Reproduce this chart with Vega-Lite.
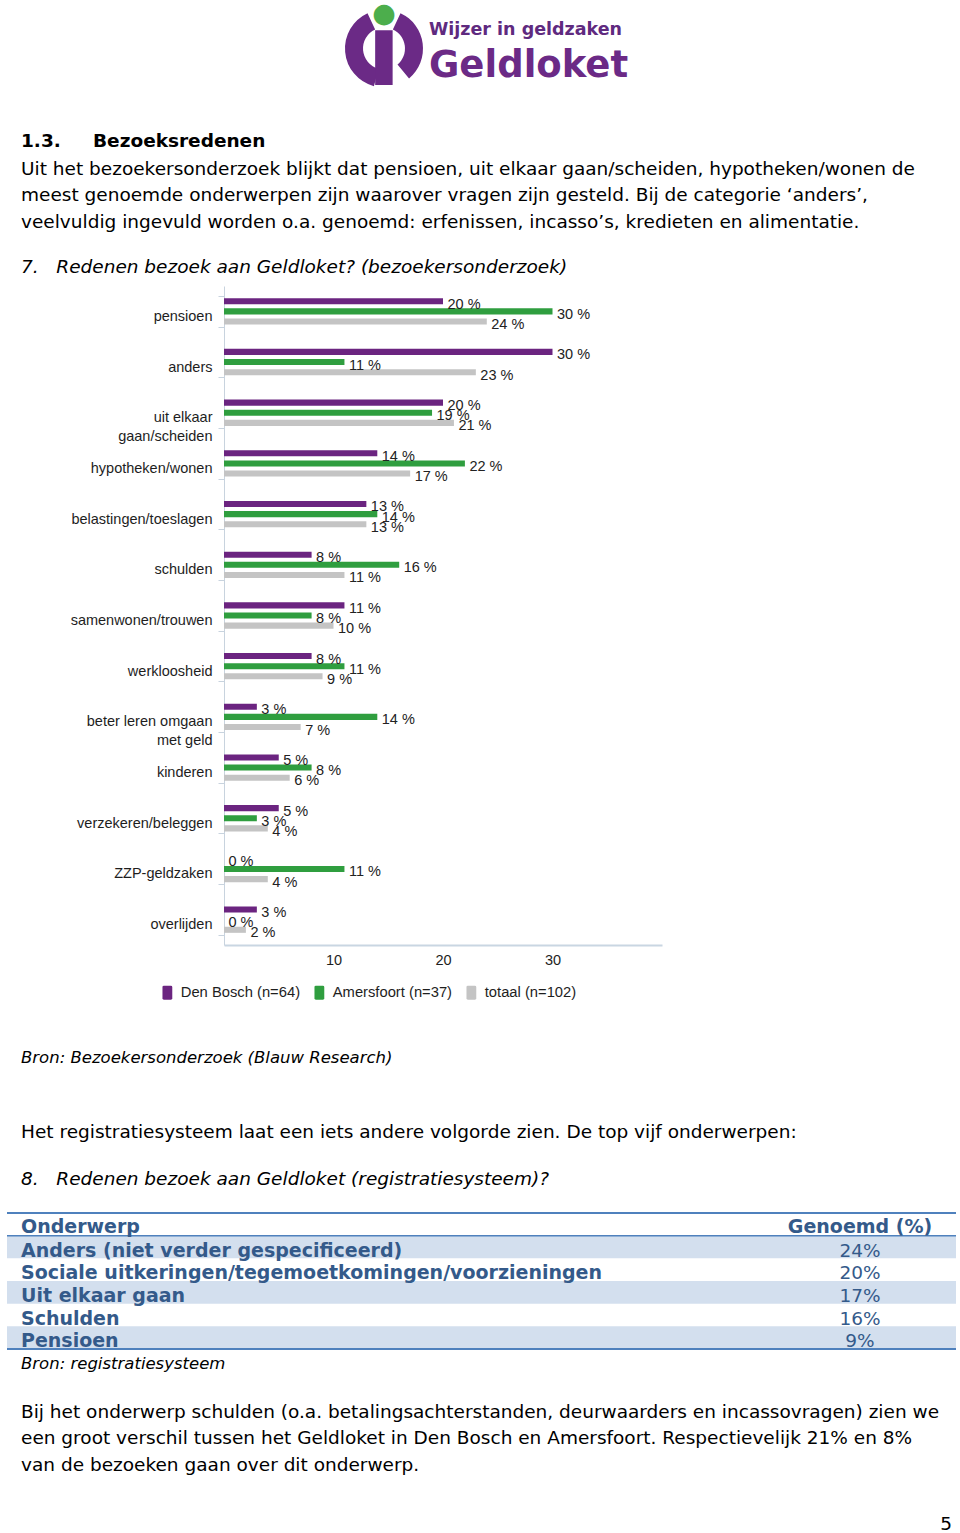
{
  "$schema": "https://vega.github.io/schema/vega-lite/v6.json",
  "padding": 0,
  "spacing": 0,
  "background": "#ffffff",
  "config": {"view": {"stroke": null}},
  "resolve": {"legend": {"color": "independent"}},
  "datasets": {
    "logo": [
      {"deel": "rechts", "van": 25, "tot": 140},
      {"deel": "links", "van": 195, "tot": 335}
    ],
    "bezoek": [
      {"onderwerp": "pensioen", "locatie": "Den Bosch (n=64)", "percentage": 20},
      {"onderwerp": "pensioen", "locatie": "Amersfoort (n=37)", "percentage": 30},
      {"onderwerp": "pensioen", "locatie": "totaal (n=102)", "percentage": 24},
      {"onderwerp": "anders", "locatie": "Den Bosch (n=64)", "percentage": 30},
      {"onderwerp": "anders", "locatie": "Amersfoort (n=37)", "percentage": 11},
      {"onderwerp": "anders", "locatie": "totaal (n=102)", "percentage": 23},
      {"onderwerp": "uit elkaar gaan/scheiden", "locatie": "Den Bosch (n=64)", "percentage": 20},
      {"onderwerp": "uit elkaar gaan/scheiden", "locatie": "Amersfoort (n=37)", "percentage": 19},
      {"onderwerp": "uit elkaar gaan/scheiden", "locatie": "totaal (n=102)", "percentage": 21},
      {"onderwerp": "hypotheken/wonen", "locatie": "Den Bosch (n=64)", "percentage": 14},
      {"onderwerp": "hypotheken/wonen", "locatie": "Amersfoort (n=37)", "percentage": 22},
      {"onderwerp": "hypotheken/wonen", "locatie": "totaal (n=102)", "percentage": 17},
      {"onderwerp": "belastingen/toeslagen", "locatie": "Den Bosch (n=64)", "percentage": 13},
      {"onderwerp": "belastingen/toeslagen", "locatie": "Amersfoort (n=37)", "percentage": 14},
      {"onderwerp": "belastingen/toeslagen", "locatie": "totaal (n=102)", "percentage": 13},
      {"onderwerp": "schulden", "locatie": "Den Bosch (n=64)", "percentage": 8},
      {"onderwerp": "schulden", "locatie": "Amersfoort (n=37)", "percentage": 16},
      {"onderwerp": "schulden", "locatie": "totaal (n=102)", "percentage": 11},
      {"onderwerp": "samenwonen/trouwen", "locatie": "Den Bosch (n=64)", "percentage": 11},
      {"onderwerp": "samenwonen/trouwen", "locatie": "Amersfoort (n=37)", "percentage": 8},
      {"onderwerp": "samenwonen/trouwen", "locatie": "totaal (n=102)", "percentage": 10},
      {"onderwerp": "werkloosheid", "locatie": "Den Bosch (n=64)", "percentage": 8},
      {"onderwerp": "werkloosheid", "locatie": "Amersfoort (n=37)", "percentage": 11},
      {"onderwerp": "werkloosheid", "locatie": "totaal (n=102)", "percentage": 9},
      {"onderwerp": "beter leren omgaan met geld", "locatie": "Den Bosch (n=64)", "percentage": 3},
      {"onderwerp": "beter leren omgaan met geld", "locatie": "Amersfoort (n=37)", "percentage": 14},
      {"onderwerp": "beter leren omgaan met geld", "locatie": "totaal (n=102)", "percentage": 7},
      {"onderwerp": "kinderen", "locatie": "Den Bosch (n=64)", "percentage": 5},
      {"onderwerp": "kinderen", "locatie": "Amersfoort (n=37)", "percentage": 8},
      {"onderwerp": "kinderen", "locatie": "totaal (n=102)", "percentage": 6},
      {"onderwerp": "verzekeren/beleggen", "locatie": "Den Bosch (n=64)", "percentage": 5},
      {"onderwerp": "verzekeren/beleggen", "locatie": "Amersfoort (n=37)", "percentage": 3},
      {"onderwerp": "verzekeren/beleggen", "locatie": "totaal (n=102)", "percentage": 4},
      {"onderwerp": "ZZP-geldzaken", "locatie": "Den Bosch (n=64)", "percentage": 0},
      {"onderwerp": "ZZP-geldzaken", "locatie": "Amersfoort (n=37)", "percentage": 11},
      {"onderwerp": "ZZP-geldzaken", "locatie": "totaal (n=102)", "percentage": 4},
      {"onderwerp": "overlijden", "locatie": "Den Bosch (n=64)", "percentage": 3},
      {"onderwerp": "overlijden", "locatie": "Amersfoort (n=37)", "percentage": 0},
      {"onderwerp": "overlijden", "locatie": "totaal (n=102)", "percentage": 2}
    ],
    "tabel": [
      {"rang": 1, "onderwerp": "Anders (niet verder gespecificeerd)", "genoemd": 24},
      {"rang": 2, "onderwerp": "Sociale uitkeringen/tegemoetkomingen/voorzieningen", "genoemd": 20},
      {"rang": 3, "onderwerp": "Uit elkaar gaan", "genoemd": 17},
      {"rang": 4, "onderwerp": "Schulden", "genoemd": 16},
      {"rang": 5, "onderwerp": "Pensioen", "genoemd": 9}
    ],
    "kop": [
      {"rang": 0, "kolom": "Onderwerp"},
      {"rang": 0, "kolom": "Genoemd (%)"}
    ]
  },
  "vconcat": [
    {
      "spacing": 0,
      "hconcat": [
        {"width": 345, "height": 10, "data": {"values": []}, "mark": "point"},
        {
          "width": 78, "height": 97,
          "data": {"name": "logo"},
          "mark": {"type": "arc", "radius": 39, "radius2": 21, "fill": "#6b2a86"},
          "encoding": {
            "theta": {"field": "van", "type": "quantitative", "stack": null, "scale": {"domain": [0, 360]}},
            "theta2": {"field": "tot"}
          },
          "title": {
            "text": "●", "subtitle": "ı",
            "anchor": "middle", "frame": "group", "orient": "bottom", "offset": -96, "baseline": "top",
            "font": "DejaVu Sans", "fontSize": 27, "fontWeight": "normal", "color": "#4cae4c",
            "subtitleFont": "DejaVu Sans", "subtitleFontSize": 100, "subtitleFontWeight": "bold", "subtitleColor": "#6b2a86",
            "subtitlePadding": -22
          }
        },
        {
          "width": 537, "height": 114,
          "data": {"values": []}, "mark": "point",
          "title": {
            "text": "Wijzer in geldzaken", "subtitle": "Geldloket",
            "anchor": "start", "frame": "group", "orient": "bottom", "offset": -93, "baseline": "top", "dx": 6,
            "font": "DejaVu Sans", "fontSize": 17.5, "fontWeight": "bold", "color": "#5f2a7f",
            "subtitleFont": "DejaVu Sans", "subtitleFontSize": 37, "subtitleFontWeight": "bold", "subtitleColor": "#6b2a86",
            "subtitlePadding": 9.5
          }
        }
      ]
    },
    {
      "width": 960, "height": 125,
      "data": {"values": []}, "mark": "point",
      "title": {
        "text": "1.3.\u00a0\u00a0\u00a0\u00a0\u00a0Bezoeksredenen",
        "subtitle": [
          "Uit het bezoekersonderzoek blijkt dat pensioen, uit elkaar gaan/scheiden, hypotheken/wonen de",
          "meest genoemde onderwerpen zijn waarover vragen zijn gesteld. Bij de categorie ‘anders’,",
          "veelvuldig ingevuld worden o.a. genoemd: erfenissen, incasso’s, kredieten en alimentatie."
        ],
        "anchor": "start", "frame": "group", "orient": "bottom", "offset": -107.3, "baseline": "top", "dx": 21,
        "font": "DejaVu Sans", "fontSize": 18.5, "fontWeight": "bold", "color": "#000000",
        "subtitleFont": "DejaVu Sans", "subtitleFontSize": 18.5, "subtitleFontWeight": "normal", "subtitleColor": "#000000",
        "subtitleLineHeight": 26.6, "subtitlePadding": 9.3
      }
    },
    {
      "width": 960, "height": 39,
      "data": {"values": []}, "mark": "point",
      "title": {
        "text": "7.\u00a0\u00a0\u00a0Redenen bezoek aan Geldloket? (bezoekersonderzoek)",
        "anchor": "start", "frame": "group", "orient": "bottom", "offset": -20.3, "baseline": "top", "dx": 21,
        "font": "DejaVu Sans", "fontSize": 18.5, "fontWeight": "normal", "fontStyle": "italic", "color": "#000000"
      }
    },
    {
      "spacing": 0,
      "resolve": {"legend": {"color": "independent"}},
      "hconcat": [
        {"width": 1, "height": 1, "data": {"values": []}, "mark": "point"},
        {
          "width": 438, "height": 659,
          "data": {"name": "bezoek"},
          "encoding": {
            "y": {
              "field": "onderwerp", "type": "nominal",
              "sort": ["pensioen", "anders", "uit elkaar gaan/scheiden", "hypotheken/wonen", "belastingen/toeslagen", "schulden", "samenwonen/trouwen", "werkloosheid", "beter leren omgaan met geld", "kinderen", "verzekeren/beleggen", "ZZP-geldzaken", "overlijden"],
              "scale": {"paddingInner": 0.4, "paddingOuter": 0.2},
              "axis": {
                "title": null, "domainColor": "#c8d3de", "tickColor": "#c8d3de", "tickSize": 6, "tickBand": "extent",
                "labelFont": "Liberation Sans", "labelFontSize": 14.5, "labelColor": "#1e1e1e",
                "labelPadding": 6, "labelOffset": 5, "labelLimit": 220, "labelLineHeight": 18.3,
                "minExtent": 223, "maxExtent": 223,
                "labelExpr": "datum.label == 'uit elkaar gaan/scheiden' ? ['uit elkaar', 'gaan/scheiden'] : datum.label == 'beter leren omgaan met geld' ? ['beter leren omgaan', 'met geld'] : datum.label"
              }
            },
            "yOffset": {
              "field": "locatie", "type": "nominal",
              "sort": ["Den Bosch (n=64)", "Amersfoort (n=37)", "totaal (n=102)"],
              "scale": {"paddingInner": 0.4, "paddingOuter": 0.2}
            },
            "x": {
              "field": "percentage", "type": "quantitative",
              "scale": {"domain": [0, 40]},
              "axis": {
                "title": null, "values": [10, 20, 30], "grid": false, "ticks": false, "tickSize": 0,
                "domainColor": "#c9d6e2", "domainWidth": 2,
                "labelFont": "Liberation Sans", "labelFontSize": 14.5, "labelColor": "#1e1e1e", "labelPadding": 8,
                "minExtent": 74, "maxExtent": 74
              }
            }
          },
          "layer": [
            {
              "mark": {"type": "bar"},
              "encoding": {
                "color": {
                  "field": "locatie", "type": "nominal",
                  "scale": {"domain": ["Den Bosch (n=64)", "Amersfoort (n=37)", "totaal (n=102)"], "range": ["#6b2480", "#2f9e3f", "#c4c4c4"]},
                  "legend": {
                    "orient": "none", "legendX": -64, "legendY": 699, "direction": "horizontal", "title": null,
                    "symbolType": "M-0.5,-1H0.5Q0.7,-1 0.7,-0.8V0.8Q0.7,1 0.5,1H-0.5Q-0.7,1 -0.7,0.8V-0.8Q-0.7,-1 -0.5,-1Z",
                    "symbolSize": 196, "symbolStrokeWidth": 0, "symbolOpacity": 1,
                    "labelFont": "Liberation Sans", "labelFontSize": 14.75, "labelColor": "#1e1e1e", "labelOffset": 6, "labelLimit": 300,
                    "columnPadding": 11, "padding": 0
                  }
                }
              }
            },
            {
              "mark": {"type": "text", "align": "left", "baseline": "middle", "dx": 4.5, "dy": 3.5, "font": "Liberation Sans", "fontSize": 14.5, "color": "#222222"},
              "encoding": {
                "text": {"value": {"expr": "datum.percentage + ' %'"}}
              }
            }
          ]
        }
      ]
    },
    {
      "width": 960, "height": 80,
      "data": {"values": []}, "mark": "point",
      "title": {
        "text": "Bron: Bezoekersonderzoek (Blauw Research)",
        "anchor": "start", "frame": "group", "orient": "bottom", "offset": -49, "baseline": "top", "dx": 21,
        "font": "DejaVu Sans", "fontSize": 16.5, "fontWeight": "normal", "fontStyle": "italic", "color": "#000000"
      }
    },
    {
      "width": 960, "height": 113,
      "data": {"values": []}, "mark": "point",
      "title": {
        "text": "Het registratiesysteem laat een iets andere volgorde zien. De top vijf onderwerpen:",
        "subtitle": "8.\u00a0\u00a0\u00a0Redenen bezoek aan Geldloket (registratiesysteem)?",
        "anchor": "start", "frame": "group", "orient": "bottom", "offset": -89, "baseline": "top", "dx": 21,
        "font": "DejaVu Sans", "fontSize": 18.5, "fontWeight": "normal", "color": "#000000",
        "subtitleFont": "DejaVu Sans", "subtitleFontSize": 18.5, "subtitleFontWeight": "normal", "subtitleFontStyle": "italic", "subtitleColor": "#000000",
        "subtitlePadding": 28.5
      }
    },
    {
      "spacing": 0,
      "hconcat": [
        {"width": 1, "height": 1, "data": {"values": []}, "mark": "point"},
        {
          "width": 949, "height": 136,
          "encoding": {
            "y": {
              "field": "rang", "type": "ordinal",
              "scale": {"domain": [0, 1, 2, 3, 4, 5], "paddingInner": 0, "paddingOuter": 0},
              "axis": {"title": null, "labels": false, "ticks": false, "domain": false, "grid": false, "minExtent": 6, "maxExtent": 6}
            }
          },
          "layer": [
            {
              "data": {"name": "tabel"},
              "transform": [{"filter": "datum.rang % 2 == 1"}],
              "mark": {"type": "rect", "color": "#d3dfee"}
            },
            {
              "data": {"name": "kop"},
              "transform": [{"filter": "datum.kolom == 'Onderwerp'"}],
              "mark": {"type": "rule", "color": "#4f81bd", "strokeWidth": 2},
              "encoding": {"y": {"field": "rang", "type": "ordinal", "bandPosition": 0}}
            },
            {
              "data": {"name": "kop"},
              "transform": [{"filter": "datum.kolom == 'Onderwerp'"}],
              "mark": {"type": "rule", "color": "#4f81bd", "strokeWidth": 1.5},
              "encoding": {"y": {"field": "rang", "type": "ordinal", "bandPosition": 1}}
            },
            {
              "data": {"name": "tabel"},
              "transform": [{"filter": "datum.rang == 5"}],
              "mark": {"type": "rule", "color": "#4f81bd", "strokeWidth": 2},
              "encoding": {"y": {"field": "rang", "type": "ordinal", "bandPosition": 1}}
            },
            {
              "data": {"name": "tabel"},
              "mark": {"type": "text", "align": "left", "baseline": "middle", "dy": 3.75, "font": "DejaVu Sans", "fontSize": 19, "fontWeight": "bold", "color": "#345a8a"},
              "encoding": {
                "x": {"datum": "Onderwerp", "type": "nominal", "scale": {"type": "point", "domain": ["Onderwerp", "Genoemd (%)"], "padding": 0.06555, "align": 0.1273}, "axis": null},
                "text": {"field": "onderwerp"}
              }
            },
            {
              "data": {"name": "tabel"},
              "mark": {"type": "text", "align": "center", "baseline": "middle", "dy": 3.75, "font": "DejaVu Sans", "fontSize": 18.5, "fontWeight": "normal", "color": "#345a8a"},
              "encoding": {
                "x": {"datum": "Genoemd (%)", "type": "nominal", "scale": {"type": "point", "domain": ["Onderwerp", "Genoemd (%)"], "padding": 0.06555, "align": 0.1273}, "axis": null},
                "text": {"value": {"expr": "datum.genoemd + '%'"}}
              }
            },
            {
              "data": {"name": "kop"},
              "transform": [{"filter": "datum.kolom == 'Onderwerp'"}],
              "mark": {"type": "text", "align": "left", "baseline": "middle", "dy": 2.7, "font": "DejaVu Sans", "fontSize": 19, "fontWeight": "bold", "color": "#345a8a"},
              "encoding": {
                "x": {"field": "kolom", "type": "nominal", "scale": {"type": "point", "domain": ["Onderwerp", "Genoemd (%)"], "padding": 0.06555, "align": 0.1273}, "axis": null},
                "text": {"field": "kolom"}
              }
            },
            {
              "data": {"name": "kop"},
              "transform": [{"filter": "datum.kolom != 'Onderwerp'"}],
              "mark": {"type": "text", "align": "center", "baseline": "middle", "dy": 2.7, "font": "DejaVu Sans", "fontSize": 19, "fontWeight": "bold", "color": "#345a8a"},
              "encoding": {
                "x": {"field": "kolom", "type": "nominal", "scale": {"type": "point", "domain": ["Onderwerp", "Genoemd (%)"], "padding": 0.06555, "align": 0.1273}, "axis": null},
                "text": {"field": "kolom"}
              }
            }
          ]
        }
      ]
    },
    {
      "width": 960, "height": 138,
      "data": {"values": []}, "mark": "point",
      "title": {
        "text": "Bron: registratiesysteem",
        "subtitle": [
          "Bij het onderwerp schulden (o.a. betalingsachterstanden, deurwaarders en incassovragen) zien we",
          "een groot verschil tussen het Geldloket in Den Bosch en Amersfoort. Respectievelijk 21% en 8%",
          "van de bezoeken gaan over dit onderwerp."
        ],
        "anchor": "start", "frame": "group", "orient": "bottom", "offset": -134, "baseline": "top", "dx": 21,
        "font": "DejaVu Sans", "fontSize": 16.5, "fontWeight": "normal", "fontStyle": "italic", "color": "#000000",
        "subtitleFont": "DejaVu Sans", "subtitleFontSize": 18.5, "subtitleFontWeight": "normal", "subtitleFontStyle": "normal", "subtitleColor": "#000000",
        "subtitleLineHeight": 26.6, "subtitlePadding": 30
      }
    },
    {
      "width": 960, "height": 43,
      "data": {"values": []}, "mark": "point",
      "title": {
        "text": "5",
        "anchor": "end", "frame": "group", "orient": "bottom", "offset": -18, "baseline": "top", "dx": -8,
        "font": "DejaVu Sans", "fontSize": 18.5, "fontWeight": "normal", "color": "#000000"
      }
    }
  ]
}
